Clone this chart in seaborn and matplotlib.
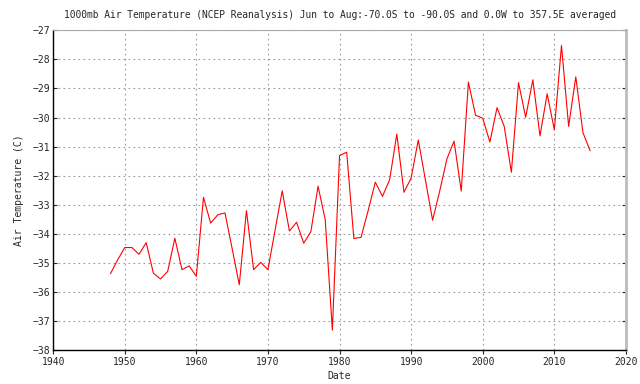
import numpy as np
import pandas as pd
import seaborn as sns
import matplotlib.pyplot as plt

# yearly Jun-Aug mean 1000mb air temperature
years = list(range(1948, 2016))
temps = [
    -35.37, -34.90, -34.47, -34.47, -34.70, -34.30, -35.35, -35.55, -35.29, -34.15,
    -35.23, -35.10, -35.46, -32.74, -33.63, -33.34, -33.28, -34.50, -35.75, -33.20,
    -35.23, -34.98, -35.23, -33.87, -32.52, -33.90, -33.60, -34.32, -33.92, -32.36,
    -33.50, -37.31, -31.31, -31.19, -34.16, -34.12, -33.20, -32.22, -32.71, -32.14,
    -30.57, -32.57, -32.08, -30.77, -32.15, -33.53, -32.52, -31.42, -30.81, -32.53,
    -28.78, -29.92, -30.02, -30.84, -29.66, -30.30, -31.88, -28.80, -29.99, -28.70,
    -30.63, -29.18, -30.42, -27.52, -30.30, -28.60, -30.52, -31.14,
]

title = ("1000mb Air Temperature (NCEP Reanalysis) Jun to Aug:-70.0S to -90.0S "
         "and 0.0W to 357.5E averaged")
x_ticks = list(range(1940, 2021, 10))
y_ticks = list(range(-38, -26))

df = pd.DataFrame({"Date": years, "temp": temps})

sns.set_style("white")
plt.rcParams['font.family'] = ['DejaVu Sans Mono']

fig = plt.figure(figsize=(6.4, 3.84), dpi=100)
ax = fig.add_axes([0.083, 0.088, 0.895, 0.833])

sns.lineplot(data=df, x="Date", y="temp", color="red", linewidth=0.8, ax=ax)

ax.set_xlim(1940, 2020)
ax.set_ylim(-38, -27)
ax.set_xticks(x_ticks)
ax.set_yticks(y_ticks)
ax.tick_params(labelsize=7, length=3, width=0.8, direction='out',
               left=True, bottom=True, pad=2)
ax.tick_params(axis='y', right=True, direction='in', length=3)

ax.grid(True, linestyle=(0, (1.5, 3)), color='#999999', linewidth=0.8)

for side in ['left', 'bottom']:
    ax.spines[side].set_color('black')
    ax.spines[side].set_linewidth(1.0)
ax.spines['top'].set_color('#aaaaaa')
ax.spines['top'].set_linewidth(0.8)
ax.spines['right'].set_color('#bbbbbb')
ax.spines['right'].set_linewidth(2.0)

ax.set_xlabel("Date", fontsize=7, labelpad=3)
ax.set_ylabel("Air Temperature (C)", fontsize=7, labelpad=6)
ax.set_title(title, fontsize=6.9, pad=9)

plt.savefig("out.png", dpi=100)
